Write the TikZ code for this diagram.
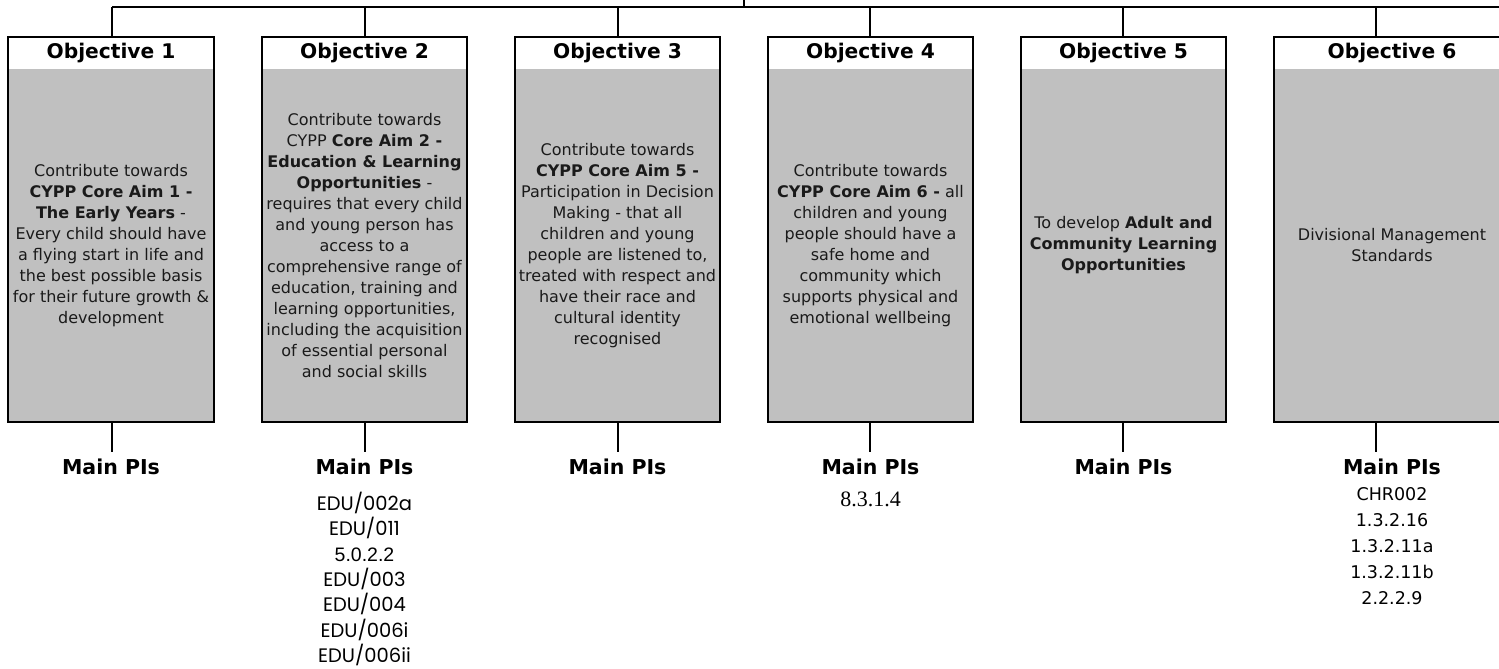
\documentclass[tikz,border=0pt]{standalone}
\usepackage{fontspec}
\setmainfont{DejaVu Sans}
\newfontfamily\pifont{Poppins}
\newfontfamily\arialfont{Liberation Sans}
\newfontfamily\timesfont{Liberation Serif}
\definecolor{boxgray}{HTML}{C0C0C0}
\definecolor{txt}{HTML}{1A1A1A}
\begin{document}
\begin{tikzpicture}[x=1pt,y=-1pt,
  line width=2pt,
  objbox/.style={draw=black, line width=2pt, minimum height=385pt, inner sep=0pt, outer sep=0pt,
    path picture={\fill[boxgray] ([yshift=-32pt]path picture bounding box.north west) rectangle (path picture bounding box.south east);}},
  hdr/.style={font=\fontsize{20.2}{22}\selectfont\bfseries, inner sep=0pt},
  body/.style={font=\fontsize{16}{21}\selectfont, align=center, inner sep=0pt, text=txt},
  pis/.style={font=\fontsize{20.5}{22}\selectfont\bfseries, inner sep=0pt},
  conn/.style={draw=black, line width=2pt}
]
\useasboundingbox (0,0) rectangle (1499,669);
\clip (0,0) rectangle (1499,669);

% boxes
\node[objbox, minimum width=206pt] (b1) at (111,229.5) {};
\node[objbox, minimum width=205pt] (b2) at (364.5,229.5) {};
\node[objbox, minimum width=205pt] (b3) at (617.5,229.5) {};
\node[objbox, minimum width=205pt] (b4) at (870.5,229.5) {};
\node[objbox, minimum width=205pt] (b5) at (1123.5,229.5) {};
\node[objbox, minimum width=236pt] (b6) at (1392,229.5) {};

% headers
\node[hdr] (h1) at ([yshift=-16pt]b1.north) {Objective 1};
\node[hdr] (h2) at ([yshift=-16pt]b2.north) {Objective 2};
\node[hdr] (h3) at ([yshift=-16pt]b3.north) {Objective 3};
\node[hdr] (h4) at ([yshift=-16pt]b4.north) {Objective 4};
\node[hdr] (h5) at ([yshift=-16pt]b5.north) {Objective 5};
\node[hdr] (h6) at ([yshift=-16pt]b6.north) {Objective 6};

% bodies
\node[body] (t1) at ([yshift=-16pt]b1.center) {Contribute towards\\
\textbf{CYPP Core Aim 1 -}\\
\textbf{The Early Years} -\\
Every child should have\\
a flying start in life and\\
the best possible basis\\
for their future growth \&\\
development};
\node[body] (t2) at ([yshift=-16pt]b2.center) {Contribute towards\\
CYPP \textbf{Core Aim 2 -}\\
\textbf{Education \& Learning}\\
\textbf{Opportunities} -\\
requires that every child\\
and young person has\\
access to a\\
comprehensive range of\\
education, training and\\
learning opportunities,\\
including the acquisition\\
of essential personal\\
and social skills};
\node[body] (t3) at ([yshift=-16pt]b3.center) {Contribute towards\\
\textbf{CYPP Core Aim 5 -}\\
Participation in Decision\\
Making - that all\\
children and young\\
people are listened to,\\
treated with respect and\\
have their race and\\
cultural identity\\
recognised};
\node[body] (t4) at ([yshift=-16pt]b4.center) {Contribute towards\\
\textbf{CYPP Core Aim 6 -} all\\
children and young\\
people should have a\\
safe home and\\
community which\\
supports physical and\\
emotional wellbeing};
\node[body] (t5) at ([yshift=-16pt]b5.center) {To develop \textbf{Adult and}\\
\textbf{Community Learning}\\
\textbf{Opportunities}};
\node[body] (t6) at ([yshift=-16pt]b6.center) {Divisional Management\\
Standards};

% top bus
\coordinate (top) at (744,0);
\coordinate (busL) at (112,7);
\coordinate (busR) at (1510,7);
\coordinate (d1) at (112,7);
\coordinate (d2) at (365,7);
\coordinate (d3) at (618,7);
\coordinate (d4) at (870,7);
\coordinate (d5) at (1123,7);
\coordinate (d6) at (1376,7);
\draw[conn] (busL) -- (busR);
\draw[conn] (top) -- (top |- busL);
\foreach \i in {1,...,6} {
  \draw[conn] (d\i) -- (d\i |- b\i.north);
}

% bottom stubs and labels
\foreach \i/\x in {1/112,2/365,3/618,4/870,5/1123,6/1376} {
  \coordinate (s\i) at (\x,452);
  \draw[conn] (s\i |- b\i.south) -- (s\i);
}
\node[pis] (m1) at (111,467) {Main PIs};
\node[pis] (m2) at (364.5,467) {Main PIs};
\node[pis] (m3) at (617.5,467) {Main PIs};
\node[pis] (m4) at (870.5,467) {Main PIs};
\node[pis] (m5) at (1123.5,467) {Main PIs};
\node[pis] (m6) at (1392,467) {Main PIs};

% PI lists
\node[inner sep=0pt, align=center, anchor=north, font=\pifont\fontsize{19.5}{25.4}\selectfont] (l2) at (364.5,491) {EDU/002a\\EDU/011\\{\arialfont 5.0.2.2}\\EDU/003\\EDU/004\\EDU/006i\\EDU/006ii};
\node[inner sep=0pt, font=\timesfont\fontsize{22}{26}\selectfont] (l4) at (870.5,499) {8.3.1.4};
\node[inner sep=0pt, align=center, anchor=north, font=\fontsize{17.5}{26}\selectfont] (l6) at (1392,487) {CHR002\\1.3.2.16\\1.3.2.11a\\1.3.2.11b\\2.2.2.9};
\end{tikzpicture}
\end{document}
